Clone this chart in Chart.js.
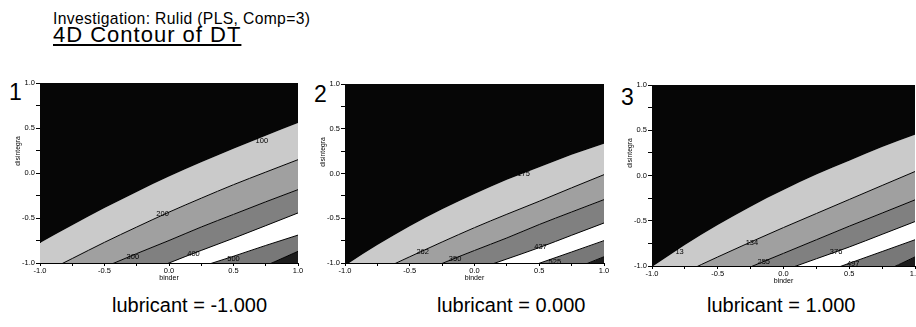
<!DOCTYPE html>
<html>
<head>
<meta charset="utf-8">
<script src="https://cdn.jsdelivr.net/npm/chart.js@4.4.0/dist/chart.umd.min.js"></script>
<style>
  body { margin: 0; background: #fff; font-family: "Liberation Sans", Arial, sans-serif; }
  #page { position: relative; width: 916px; height: 327px; overflow: hidden; background: #fff; }
  .txt { position: absolute; white-space: nowrap; line-height: 1; color: #000; }
  canvas { position: absolute; }
</style>
</head>
<body>
<div id="page">
  <div class="txt" style="left:53px;top:11px;font-size:15.7px;letter-spacing:0.35px">Investigation: Rulid (PLS, Comp=3)</div>
  <div class="txt" style="left:53px;top:24px;font-size:22px;letter-spacing:1px;text-decoration:underline">4D Contour of DT</div>
  <div class="txt" style="left:9px;top:81px;font-size:23px">1</div>
  <div class="txt" style="left:314px;top:83px;font-size:23px">2</div>
  <div class="txt" style="left:621px;top:86px;font-size:23px">3</div>
  <div class="txt" style="left:112px;top:295px;font-size:20px">lubricant = -1.000</div>
  <div class="txt" style="left:437px;top:295px;font-size:20px">lubricant = 0.000</div>
  <div class="txt" style="left:707px;top:295px;font-size:20px">lubricant = 1.000</div>
  <canvas id="c1"></canvas>
  <canvas id="c2"></canvas>
  <canvas id="c3"></canvas>
</div>
<script>
// binder values where each contour is sampled
const xs = [-1, -0.75, -0.5, -0.25, 0, 0.25, 0.5, 0.75, 1];

// lubricant = -1 : disintegra value of each contour line (top to bottom)
const p1A = [-0.778, -0.58, -0.39, -0.21, -0.04, 0.12, 0.27, 0.415, 0.556];
const p1B = [-1.13, -0.95, -0.77, -0.60, -0.435, -0.28, -0.13, 0.01, 0.148];
const p1C = [-1.40, -1.20, -1.045, -0.895, -0.75, -0.60, -0.46, -0.32, -0.185];
const p1D = [-1.60, -1.45, -1.30, -1.15, -1.0, -0.86, -0.725, -0.585, -0.444];
const p1E = [-1.66, -1.53, -1.40, -1.28, -1.16, -1.04, -0.925, -0.805, -0.69];
const p1F = [-2.15, -1.99, -1.83, -1.67, -1.51, -1.35, -1.19, -1.03, -0.87];

// lubricant = 0
const p2A = [-1.03, -0.80, -0.59, -0.40, -0.23, -0.07, 0.07, 0.21, 0.333];
const p2B = [-1.28, -1.10, -0.93, -0.765, -0.605, -0.455, -0.31, -0.16, -0.013];
const p2C = [-1.48, -1.32, -1.16, -1.005, -0.86, -0.72, -0.57, -0.43, -0.292];
const p2D = [-1.60, -1.46, -1.33, -1.20, -1.08, -0.955, -0.828, -0.69, -0.553];
const p2E = [-1.76, -1.63, -1.51, -1.38, -1.256, -1.13, -1.003, -0.877, -0.75];
const p2F = [-2.09, -1.945, -1.80, -1.655, -1.51, -1.365, -1.22, -1.075, -0.93];

// lubricant = 1
const p3A = [-1.01, -0.768, -0.546, -0.344, -0.161, 0.011, 0.163, 0.315, 0.45];
const p3B = [-1.25, -1.07, -0.90, -0.735, -0.575, -0.42, -0.265, -0.11, 0.044];
const p3C = [-1.49, -1.33, -1.17, -1.01, -0.86, -0.71, -0.56, -0.415, -0.269];
const p3D = [-1.57, -1.44, -1.31, -1.18, -1.05, -0.92, -0.79, -0.65, -0.509];
const p3E = [-1.75, -1.62, -1.49, -1.36, -1.23, -1.10, -0.97, -0.84, -0.71];
const p3F = [-2.24, -2.07, -1.90, -1.74, -1.57, -1.40, -1.23, -1.07, -0.90];

// contour level labels
const p1LabelText = ['100', '200', '300', '400', '500'];
const p1LabelX = [0.72, -0.05, -0.28, 0.19, 0.50];
const p1LabelY = [0.36, -0.46, -0.93, -0.90, -0.95];
const p2LabelText = ['175', '262', '350', '437', '525'];
const p2LabelX = [0.38, -0.40, -0.15, 0.51, 0.62];
const p2LabelY = [0.0, -0.88, -0.96, -0.82, -0.99];
const p3LabelText = ['13', '134', '255', '376', '497'];
const p3LabelX = [-0.79, -0.24, -0.15, 0.40, 0.53];
const p3LabelY = [-0.85, -0.74, -0.95, -0.84, -0.98];

// fill above A, between A..F, and below F
const bandColors = ['#060606', '#cacaca', '#a0a0a0', '#808080', '#ffffff', '#787878', '#1c1c1c'];

const fontFamily = '"Liberation Sans", Arial, sans-serif';

function contourSets(curves) {
  const sets = curves.map((ys, i) => ({
    data: xs.map((x, j) => ({ x: x, y: ys[j] })),
    borderColor: '#000',
    borderWidth: i === 0 ? 0 : 1,
    backgroundColor: bandColors[i],
    fill: i === 0 ? 'end' : '-1',
    pointRadius: 0,
    cubicInterpolationMode: 'monotone',
    clip: 0
  }));
  // dark corner under the last contour
  const last = curves[curves.length - 1];
  sets.push({
    data: xs.map((x, j) => ({ x: x, y: last[j] })),
    borderWidth: 0,
    backgroundColor: bandColors[curves.length],
    fill: 'start',
    pointRadius: 0,
    cubicInterpolationMode: 'monotone',
    clip: 0
  });
  return sets;
}

function halfStepLabel(v) {
  return Math.abs(v * 2 - Math.round(v * 2)) < 1e-6 ? v.toFixed(1) : '';
}

const contourLabels = {
  id: 'contourLabels',
  afterDatasetsDraw(chart, args, opts) {
    const { ctx, chartArea, scales } = chart;
    ctx.save();
    ctx.beginPath();
    ctx.rect(chartArea.left, chartArea.top, chartArea.width, chartArea.height);
    ctx.clip();
    ctx.font = '7.5px ' + fontFamily;
    ctx.textAlign = 'center';
    ctx.textBaseline = 'middle';
    ctx.fillStyle = '#000';
    opts.text.forEach((t, i) => {
      ctx.fillText(t, scales.x.getPixelForValue(opts.xs[i]), scales.y.getPixelForValue(opts.ys[i]));
    });
    ctx.restore();
  }
};

// y axis title sits a bit above the middle, as in the scan
const yTitle = {
  id: 'yTitle',
  afterDraw(chart) {
    const { ctx, chartArea } = chart;
    ctx.save();
    ctx.translate(chartArea.left - 22, chartArea.top + 68);
    ctx.rotate(-Math.PI / 2);
    ctx.font = '6.8px ' + fontFamily;
    ctx.textAlign = 'center';
    ctx.textBaseline = 'middle';
    ctx.fillStyle = '#000';
    ctx.fillText('disintegra', 0, 0);
    ctx.restore();
  }
};

function makePanel(id, box, curves, labelText, labelX, labelY) {
  const canvas = document.getElementById(id);
  const cl = box.left - 40;
  const ct = box.top - 24;
  const padR = Math.min(10, 916 - box.right);
  canvas.width = box.right + padR - cl;
  canvas.height = box.bottom - ct + 22;
  canvas.style.left = cl + 'px';
  canvas.style.top = ct + 'px';

  new Chart(canvas.getContext('2d'), {
    type: 'line',
    data: { datasets: contourSets(curves) },
    options: {
      responsive: false,
      animation: false,
      devicePixelRatio: 1,
      layout: { padding: { top: 24, right: padR, left: 0, bottom: 0 } },
      scales: {
        x: {
          type: 'linear', min: -1, max: 1,
          ticks: { stepSize: 0.25, autoSkip: false, maxRotation: 0, padding: 0, color: '#000',
                   font: { size: 7.5, family: fontFamily }, callback: halfStepLabel },
          grid: { drawOnChartArea: false, tickLength: 3, color: '#000' },
          border: { color: '#000' },
          title: { display: true, text: 'binder', color: '#000',
                   font: { size: 7, family: fontFamily }, padding: { top: 0, bottom: 2.8 } },
          afterFit(s) { s.height = 22; s.paddingLeft = 0; s.paddingRight = 0; }
        },
        y: {
          type: 'linear', min: -1, max: 1,
          ticks: { stepSize: 0.25, autoSkip: false, padding: 1, color: '#000',
                   font: { size: 7.5, family: fontFamily }, callback: halfStepLabel },
          grid: { drawOnChartArea: false, tickLength: 4, color: '#000' },
          border: { color: '#000' },
          afterFit(s) { s.width = 40; s.paddingTop = 0; s.paddingBottom = 0; }
        }
      },
      plugins: {
        legend: { display: false },
        tooltip: { enabled: false },
        filler: { drawTime: 'beforeDatasetsDraw' },
        contourLabels: { text: labelText, xs: labelX, ys: labelY }
      }
    },
    plugins: [contourLabels, yTitle]
  });
}

makePanel('c1', { left: 40, top: 83, right: 298, bottom: 263 },
  [p1A, p1B, p1C, p1D, p1E, p1F], p1LabelText, p1LabelX, p1LabelY);
makePanel('c2', { left: 345, top: 84, right: 604, bottom: 263 },
  [p2A, p2B, p2C, p2D, p2E, p2F], p2LabelText, p2LabelX, p2LabelY);
makePanel('c3', { left: 652, top: 85, right: 915, bottom: 266 },
  [p3A, p3B, p3C, p3D, p3E, p3F], p3LabelText, p3LabelX, p3LabelY);
</script>
</body>
</html>
